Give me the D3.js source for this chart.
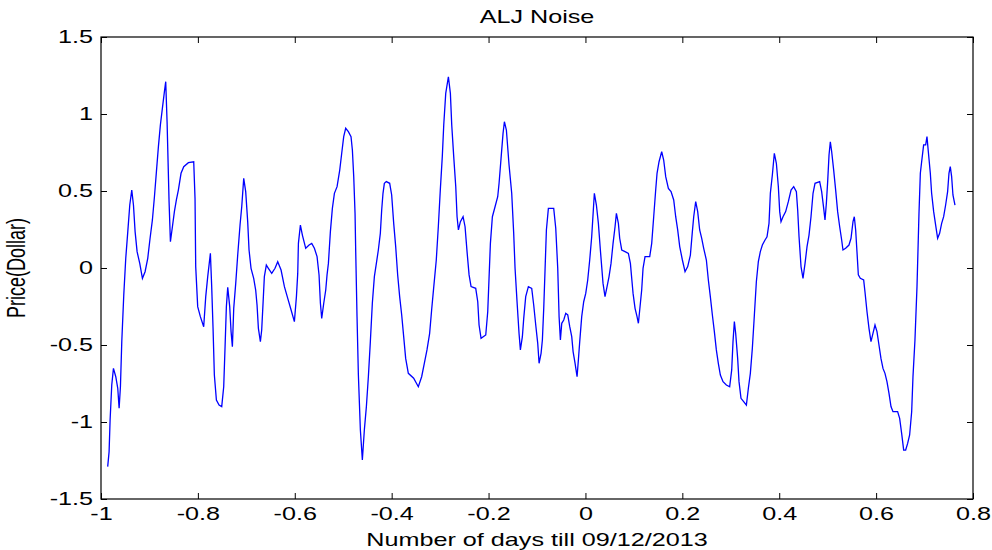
<!DOCTYPE html>
<html>
<head>
<meta charset="utf-8">
<script src="https://cdn.jsdelivr.net/npm/d3@7"></script>
<style>
  html, body { margin: 0; padding: 0; background: #ffffff; }
  svg { display: block; }
  text { font-family: "Liberation Sans", Arial, Helvetica, sans-serif; fill: #000; }
</style>
</head>
<body>
<div id="chart"></div>
<script>
// ---- Data ----
const chartTitle = "ALJ Noise";
const xAxisTitle = "Number of days till 09/12/2013";
const yAxisTitle = "Price(Dollar)";

const xTickValues = [-1, -0.8, -0.6, -0.4, -0.2, 0, 0.2, 0.4, 0.6, 0.8];
const xTickLabels = ["-1", "-0.8", "-0.6", "-0.4", "-0.2", "0", "0.2", "0.4", "0.6", "0.8"];
const yTickValues = [1.5, 1, 0.5, 0, -0.5, -1, -1.5];
const yTickLabels = ["1.5", "1", "0.5", "0", "-0.5", "-1", "-1.5"];

// [days, price]
const noisePoints = [
[-0.9862,-1.290],[-0.9833,-1.193],[-0.9812,-0.987],[-0.9778,-0.760],[-0.9743,-0.652],[-0.9695,-0.706],[-0.9654,-0.781],[-0.9626,-0.911],[-0.9599,-0.771],[-0.9571,-0.478],
[-0.9530,-0.175],[-0.9489,0.063],[-0.9447,0.236],[-0.9406,0.409],[-0.9365,0.506],[-0.9330,0.409],[-0.9296,0.236],[-0.9255,0.106],[-0.9200,0.030],[-0.9145,-0.067],
[-0.9090,-0.024],[-0.9035,0.063],[-0.8987,0.193],[-0.8939,0.312],[-0.8897,0.463],[-0.8856,0.626],[-0.8815,0.788],[-0.8774,0.929],[-0.8733,1.037],[-0.8691,1.145],
[-0.8664,1.210],[-0.8636,0.950],[-0.8595,0.431],[-0.8567,0.171],[-0.8526,0.268],[-0.8485,0.366],[-0.8444,0.442],[-0.8403,0.506],[-0.8348,0.615],[-0.8292,0.658],
[-0.8196,0.684],[-0.8086,0.690],[-0.8059,0.452],[-0.8045,0.009],[-0.8004,-0.251],[-0.7949,-0.316],[-0.7880,-0.381],[-0.7838,-0.186],[-0.7797,-0.056],[-0.7742,0.095],
[-0.7715,-0.121],[-0.7687,-0.392],[-0.7660,-0.695],[-0.7618,-0.857],[-0.7563,-0.890],[-0.7508,-0.900],[-0.7467,-0.771],[-0.7439,-0.511],[-0.7412,-0.251],[-0.7384,-0.126],
[-0.7343,-0.251],[-0.7315,-0.413],[-0.7288,-0.511],[-0.7260,-0.262],[-0.7219,-0.100],[-0.7178,0.084],[-0.7130,0.279],[-0.7095,0.398],[-0.7054,0.582],[-0.7013,0.496],
[-0.6972,0.301],[-0.6944,0.117],[-0.6903,-0.002],[-0.6848,-0.067],[-0.6807,-0.143],[-0.6779,-0.240],[-0.6751,-0.392],[-0.6710,-0.478],[-0.6683,-0.403],[-0.6655,-0.229],
[-0.6628,-0.056],[-0.6587,0.019],[-0.6545,-0.002],[-0.6476,-0.035],[-0.6408,-0.002],
[-0.6352,0.041],[-0.6283,-0.013],[-0.6214,-0.121],[-0.6145,-0.197],[-0.6076,-0.273],[-0.6008,-0.348],[-0.5966,-0.186],[-0.5939,-0.035],[-0.5925,0.160],[-0.5884,0.279],
[-0.5843,0.214],[-0.5774,0.128],[-0.5705,0.149],[-0.5650,0.160],[-0.5595,0.128],[-0.5540,0.074],[-0.5499,-0.045],[-0.5471,-0.229],[-0.5444,-0.327],[-0.5402,-0.229],
[-0.5361,-0.143],[-0.5334,-0.045],[-0.5306,0.030],[-0.5265,0.236],[-0.5224,0.387],[-0.5182,0.485],[-0.5127,0.528],[-0.5072,0.636],[-0.5031,0.745],[-0.4990,0.853],
[-0.4949,0.907],[-0.4894,0.885],[-0.4839,0.853],[-0.4811,0.766],[-0.4783,0.593],[-0.4756,0.355],[-0.4742,0.106],[-0.4715,-0.316],[-0.4687,-0.695],[-0.4646,-1.052],
[-0.4605,-1.247],[-0.4564,-1.052],[-0.4522,-0.900],[-0.4481,-0.706],[-0.4440,-0.478],[-0.4399,-0.229],[-0.4357,-0.056],[-0.4316,0.030],[-0.4275,0.117],[-0.4234,0.225],
[-0.4206,0.377],[-0.4179,0.485],[-0.4151,0.550],[-0.4110,0.561],[-0.4041,0.550],[-0.4000,0.474],[-0.3958,0.290],[-0.3917,0.139],[-0.3876,-0.045],[-0.3835,-0.186],
[-0.3793,-0.305],[-0.3752,-0.446],[-0.3711,-0.587],[-0.3656,-0.684],[-0.3546,-0.716],[-0.3450,-0.771],[-0.3381,-0.706],[-0.3326,-0.619],[-0.3271,-0.532],[-0.3216,-0.424],
[-0.3175,-0.273],[-0.3134,-0.132],[-0.3079,0.052],[-0.3037,0.268],[-0.2996,0.506],[-0.2955,0.723],
[-0.2925,0.929],[-0.2884,1.134],[-0.2829,1.242],[-0.2788,1.134],[-0.2760,0.929],[-0.2719,0.723],[-0.2677,0.528],[-0.2650,0.333],[-0.2622,0.247],[-0.2581,0.301],
[-0.2526,0.333],[-0.2485,0.268],[-0.2444,0.106],[-0.2402,-0.045],[-0.2361,-0.121],[-0.2265,-0.132],[-0.2223,-0.219],[-0.2196,-0.370],[-0.2155,-0.457],[-0.2058,-0.435],
[-0.2017,-0.284],[-0.1990,-0.067],[-0.1962,0.160],[-0.1921,0.333],[-0.1866,0.398],[-0.1811,0.463],[-0.1783,0.550],[-0.1742,0.712],[-0.1701,0.874],[-0.1673,0.950],
[-0.1632,0.896],[-0.1577,0.669],[-0.1522,0.485],[-0.1481,0.225],[-0.1453,-0.002],[-0.1412,-0.219],[-0.1371,-0.424],[-0.1343,-0.532],[-0.1302,-0.446],[-0.1274,-0.327],
[-0.1233,-0.186],[-0.1178,-0.121],[-0.1109,-0.132],[-0.1068,-0.240],[-0.1026,-0.370],[-0.0985,-0.489],[-0.0957,-0.619],[-0.0916,-0.554],[-0.0889,-0.468],[-0.0861,-0.262],
[-0.0834,-0.013],[-0.0806,0.247],[-0.0765,0.387],[-0.0655,0.387],[-0.0613,0.258],[-0.0572,-0.002],[-0.0544,-0.316],[-0.0517,-0.468],[-0.0489,-0.359],[-0.0448,-0.338],
[-0.0407,-0.294],[-0.0365,-0.305],[-0.0324,-0.381],[-0.0283,-0.446],[-0.0255,-0.543],[-0.0214,-0.619],[-0.0173,-0.706],[-0.0146,-0.597],[-0.0118,-0.478],[-0.0077,-0.316],
[-0.0036,-0.219],[0.0006,-0.165],[0.0047,-0.078],[0.0088,0.052],[0.0129,0.203],[0.0184,0.485],[0.0226,0.409],[0.0267,0.290],[0.0308,0.117],[0.0363,-0.100],
[0.0404,-0.186],
[0.0446,-0.121],[0.0487,-0.056],[0.0528,0.030],[0.0570,0.160],[0.0611,0.268],[0.0639,0.355],[0.0680,0.290],[0.0707,0.193],[0.0749,0.117],[0.0817,0.106],
[0.0886,0.095],[0.0928,0.030],[0.0955,-0.067],[0.0983,-0.165],[0.1024,-0.262],[0.1065,-0.316],[0.1093,-0.359],[0.1134,-0.229],[0.1161,-0.143],[0.1189,-0.002],
[0.1230,0.074],[0.1327,0.074],[0.1368,0.160],[0.1409,0.333],[0.1450,0.506],[0.1478,0.615],[0.1519,0.690],[0.1574,0.755],[0.1615,0.701],[0.1657,0.593],
[0.1712,0.517],[0.1767,0.496],[0.1822,0.442],[0.1863,0.333],[0.1904,0.247],[0.1946,0.139],[0.2001,0.052],[0.2056,-0.024],[0.2111,0.009],[0.2166,0.084],
[0.2207,0.236],[0.2235,0.333],[0.2276,0.431],[0.2317,0.366],[0.2358,0.247],[0.2400,0.193],[0.2441,0.128],[0.2496,0.052],[0.2537,-0.078],[0.2578,-0.186],
[0.2620,-0.305],[0.2661,-0.413],[0.2702,-0.532],[0.2743,-0.619],[0.2785,-0.695],[0.2840,-0.738],[0.2909,-0.760],[0.2977,-0.771],[0.3019,-0.662],[0.3046,-0.478],
[0.3074,-0.348],[0.3101,-0.424],[0.3142,-0.587],[0.3170,-0.738],[0.3211,-0.846],[0.3266,-0.868],[0.3322,-0.890],[0.3363,-0.781],[0.3404,-0.684],[0.3445,-0.522],
[0.3487,-0.305],[0.3528,-0.089],[0.3569,0.041],[0.3610,0.106],[0.3652,0.149],[0.3707,0.182],[0.3748,0.203],[0.3789,0.290],[0.3817,0.485],[0.3858,0.604],
[0.3899,0.745],[0.3941,0.680],[0.3982,0.528],
[0.4010,0.366],[0.4037,0.301],[0.4078,0.333],[0.4133,0.366],[0.4188,0.431],[0.4244,0.506],[0.4299,0.528],[0.4354,0.496],[0.4381,0.377],[0.4409,0.203],
[0.4450,0.009],[0.4491,-0.067],[0.4533,0.030],[0.4574,0.139],[0.4615,0.214],[0.4656,0.333],[0.4698,0.485],[0.4739,0.550],[0.4835,0.561],[0.4876,0.496],
[0.4918,0.387],[0.4945,0.312],[0.4973,0.420],[0.5000,0.561],[0.5028,0.734],[0.5055,0.820],[0.5083,0.755],[0.5124,0.636],[0.5165,0.506],[0.5206,0.366],
[0.5248,0.268],[0.5289,0.182],[0.5316,0.117],[0.5371,0.128],[0.5440,0.149],[0.5482,0.193],[0.5523,0.301],[0.5550,0.333],[0.5578,0.247],[0.5605,0.106],
[0.5633,-0.045],[0.5674,-0.067],[0.5743,-0.078],[0.5770,-0.154],[0.5812,-0.284],[0.5853,-0.392],[0.5894,-0.478],[0.5935,-0.424],[0.5977,-0.370],[0.6018,-0.413],
[0.6059,-0.500],[0.6100,-0.587],[0.6142,-0.652],[0.6183,-0.684],[0.6224,-0.738],[0.6266,-0.814],[0.6307,-0.900],[0.6348,-0.933],[0.6444,-0.933],[0.6486,-0.976],
[0.6527,-1.074],[0.6569,-1.182],[0.6610,-1.182],[0.6651,-1.139],[0.6692,-1.084],[0.6734,-0.933],[0.6761,-0.706],[0.6802,-0.468],[0.6844,-0.121],[0.6885,0.355],
[0.6913,0.615],[0.6940,0.690],[0.6981,0.799],[0.7023,0.799],[0.7050,0.853],[0.7078,0.755],[0.7119,0.615],[0.7146,0.485],[0.7188,0.366],[0.7229,0.279],
[0.7270,0.193],[0.7311,0.225],[0.7353,0.290],[0.7394,0.333],[0.7435,0.409],[0.7476,0.496],[0.7504,0.615],[0.7531,0.658],[0.7559,0.593],[0.7586,0.474],
[0.7628,0.409]
];

// ---- Layout ----
const W = 992, H = 550;
const plot = { left: 101, right: 973, top: 37, bottom: 499 };
const FONT = 18;      // px
const SX = 1.4;       // horizontal stretch of the reference text

const svg = d3.select("#chart").append("svg")
  .attr("width", W).attr("height", H);

svg.append("rect").attr("width", W).attr("height", H).attr("fill", "#ffffff");

const x = d3.scaleLinear().domain([-1, 0.8]).range([plot.left, plot.right]);
const y = d3.scaleLinear().domain([-1.5, 1.5]).range([plot.bottom, plot.top]);

// Data line
const line = d3.line().x(d => x(d[0])).y(d => y(d[1]));
svg.append("path")
  .datum(noisePoints)
  .attr("fill", "none")
  .attr("stroke", "#0000ff")
  .attr("stroke-width", 1.3)
  .attr("stroke-linejoin", "miter")
  .attr("d", line);

const TICK = 6;
const xLab = d => xTickLabels[xTickValues.indexOf(d)];
const yLab = d => yTickLabels[yTickValues.indexOf(d)];

// Axes (ticks point inward like MATLAB)
const gBottom = svg.append("g").attr("transform", `translate(0,${plot.bottom})`)
  .call(d3.axisBottom(x).tickValues(xTickValues).tickFormat(xLab)
    .tickSizeInner(-TICK).tickSizeOuter(0).tickPadding(8));
const gTop = svg.append("g").attr("transform", `translate(0,${plot.top})`)
  .call(d3.axisTop(x).tickValues(xTickValues).tickFormat("")
    .tickSizeInner(-TICK).tickSizeOuter(0));
const gLeft = svg.append("g").attr("transform", `translate(${plot.left},0)`)
  .call(d3.axisLeft(y).tickValues(yTickValues).tickFormat(yLab)
    .tickSizeInner(-TICK).tickSizeOuter(0).tickPadding(8));
const gRight = svg.append("g").attr("transform", `translate(${plot.right},0)`)
  .call(d3.axisRight(y).tickValues(yTickValues).tickFormat("")
    .tickSizeInner(-TICK).tickSizeOuter(0));

[gBottom, gTop, gLeft, gRight].forEach(g => {
  g.select(".domain").remove();
  g.selectAll(".tick line").attr("stroke", "#000").attr("stroke-width", 1);
});

gBottom.selectAll(".tick text")
  .attr("font-size", FONT)
  .attr("font-family", "Liberation Sans, Arial, sans-serif")
  .attr("transform", `scale(${SX},1)`);
gLeft.selectAll(".tick text")
  .attr("font-size", FONT)
  .attr("font-family", "Liberation Sans, Arial, sans-serif")
  .attr("x", -8 / SX)
  .attr("transform", `scale(${SX},1)`);

// Box
svg.append("rect")
  .attr("x", plot.left).attr("y", plot.top)
  .attr("width", plot.right - plot.left).attr("height", plot.bottom - plot.top)
  .attr("fill", "none").attr("stroke", "#000").attr("stroke-width", 1.2);

// Title & axis labels
const cx = (plot.left + plot.right) / 2;
svg.append("text")
  .attr("transform", `translate(${cx},23) scale(${SX},1)`)
  .attr("text-anchor", "middle").attr("font-size", FONT)
  .text(chartTitle);

svg.append("text")
  .attr("transform", `translate(${cx},546) scale(${SX},1)`)
  .attr("text-anchor", "middle").attr("font-size", FONT)
  .text(xAxisTitle);

svg.append("text")
  .attr("transform", `translate(25,${(plot.top + plot.bottom) / 2}) scale(${SX},1) rotate(-90)`)
  .attr("text-anchor", "middle").attr("font-size", FONT)
  .text(yAxisTitle);
</script>
</body>
</html>
